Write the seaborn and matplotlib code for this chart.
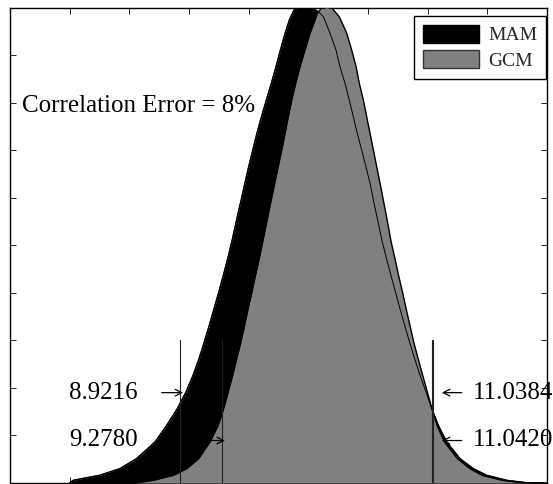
import matplotlib
matplotlib.use('Agg')
import matplotlib.pyplot as plt
import seaborn as sns
from matplotlib.patches import Patch

# ---- data ----
mam_x = [8.00, 8.03, 8.25, 8.42, 8.56, 8.715, 8.813, 8.902, 8.975, 9.034, 9.084, 9.128, 9.170,
         9.210, 9.250, 9.288, 9.324, 9.358, 9.405, 9.437, 9.468, 9.500, 9.534, 9.569, 9.607,
         9.648, 9.690, 9.729, 9.766, 9.805, 9.841, 9.880, 9.91, 9.96, 10.02, 10.05, 10.084,
         10.126, 10.182, 10.232, 10.265, 10.307, 10.343, 10.377, 10.410, 10.447, 10.483,
         10.517, 10.545, 10.575, 10.620, 10.655, 10.692, 10.730, 10.768, 10.807,
         10.848, 10.891, 10.936, 10.986, 11.034, 11.089, 11.160, 11.271, 11.383, 11.495,
         11.662, 11.830, 12.0]
mam_y = [0.0, 0.0057, 0.0162, 0.0301, 0.0511, 0.0862, 0.1213, 0.1563, 0.1914, 0.2265, 0.2614,
         0.2965, 0.3317, 0.3666, 0.4017, 0.4368, 0.4717, 0.5068, 0.560, 0.5952, 0.630, 0.665,
         0.700, 0.7354, 0.770, 0.8055, 0.8406, 0.8755, 0.9106, 0.9457, 0.9737, 0.9947, 0.999,
         1.0, 0.999, 0.996, 0.9912, 0.9807, 0.9457, 0.9106, 0.8755, 0.8406, 0.8055, 0.770,
         0.7354, 0.700, 0.665, 0.630, 0.5952, 0.560, 0.5068, 0.4717, 0.4368, 0.4017,
         0.3666, 0.3317, 0.2965, 0.2614, 0.2265, 0.1914, 0.1563, 0.1213, 0.0862, 0.0511,
         0.0301, 0.0162, 0.0057, 0.0006, 0.0]

gcm_x = [8.55, 8.70, 8.87, 8.98, 9.08, 9.175, 9.245, 9.290, 9.328, 9.366, 9.400, 9.435, 9.466,
         9.495, 9.527, 9.557, 9.588, 9.617, 9.660, 9.689, 9.718, 9.747, 9.777, 9.805, 9.832,
         9.861, 9.894, 9.930, 9.972, 10.014, 10.056, 10.075, 10.11, 10.155, 10.20, 10.259,
         10.322, 10.363, 10.400, 10.427, 10.461, 10.489, 10.517, 10.545, 10.573, 10.601,
         10.628, 10.655, 10.694, 10.726, 10.756, 10.789, 10.819, 10.851, 10.883,
         10.920, 10.958, 10.997, 11.036, 11.078, 11.141, 11.250, 11.355, 11.455, 11.623,
         11.791, 11.90]
gcm_y = [0.0, 0.0057, 0.0162, 0.0301, 0.0511, 0.0862, 0.1213, 0.1563, 0.1914, 0.2265, 0.2614,
         0.2965, 0.3317, 0.3666, 0.4017, 0.4368, 0.4717, 0.5068, 0.560, 0.5952, 0.630, 0.665,
         0.700, 0.7354, 0.770, 0.8055, 0.8406, 0.8755, 0.9106, 0.9457, 0.9737, 0.9878, 0.998,
         1.0, 0.998, 0.9807, 0.9457, 0.9106, 0.8755, 0.8406, 0.8055, 0.770, 0.7354, 0.700,
         0.665, 0.630, 0.5952, 0.560, 0.5068, 0.4717, 0.4368, 0.4017, 0.3666, 0.3317,
         0.2965, 0.2614, 0.2265, 0.1914, 0.1563, 0.1213, 0.0862, 0.0511, 0.0301, 0.0162,
         0.0057, 0.0006, 0.0]

series_labels = ['MAM', 'GCM']
left_bounds = [8.9216, 9.2780]
right_bounds = [11.0384, 11.0420]
left_labels = ['8.9216', '9.2780']
right_labels = ['11.0384', '11.0420']
note_text = 'Correlation Error = 8%'
x_ticks = [7.5, 8.0, 8.5, 9.0, 9.5, 10.0, 10.5, 11.0, 11.5, 12.0]
y_ticks = [0.0, 0.1, 0.2, 0.3, 0.4, 0.5, 0.6, 0.7, 0.8, 0.9, 1.0]

# ---- style ----
sns.set_theme(style='ticks')
plt.rcParams['font.family'] = ['Liberation Serif', 'DejaVu Serif']
plt.rcParams['axes.edgecolor'] = 'black'
plt.rcParams['axes.linewidth'] = 1.0

fig = plt.figure(figsize=(5.53, 4.84), dpi=100)
ax = fig.add_axes([10 / 553, 1 / 484, 537 / 553, 475.5 / 484])

gray = '#808080'
ax.fill_between(mam_x, mam_y, 0, color='black', lw=0, zorder=2)
sns.lineplot(x=mam_x, y=mam_y, color='black', lw=1.0, sort=False, estimator=None, ax=ax, zorder=2.5)
ax.fill_between(gcm_x, gcm_y, 0, color=gray, lw=0, zorder=3)
sns.lineplot(x=gcm_x, y=gcm_y, color='black', lw=1.0, sort=False, estimator=None, ax=ax, zorder=4)
sns.lineplot(x=mam_x, y=mam_y, color='black', lw=0.7, sort=False, estimator=None, ax=ax, zorder=4.5)

line_top = 0.3
for v in left_bounds + right_bounds:
    ax.plot([v, v], [0, line_top], color='#222222', lw=0.8, zorder=5)

# ---- annotations ----
fs = 18
label_baselines = [0.1767, 0.0778]
arrow_levels = [0.19, 0.0893]
left_tip_off = [0.030, 0.024]
for val, lab, yb, ya, off in zip(left_bounds, left_labels, label_baselines, arrow_levels, left_tip_off):
    ax.text(7.997, yb, lab, fontsize=fs, ha='left', va='baseline', color='black', zorder=6)
    ax.annotate('', xy=(val + off, ya), xytext=(val + off - 0.18, ya),
                arrowprops=dict(arrowstyle='->', color='black', lw=0.9,
                                shrinkA=0, shrinkB=0, mutation_scale=12), zorder=6)
for val, lab, yb, ya in zip(right_bounds, right_labels, label_baselines, arrow_levels):
    ax.text(11.377, yb, lab, fontsize=fs, ha='left', va='baseline', color='black',
            zorder=6, clip_on=False)
    ax.annotate('', xy=(11.118, ya), xytext=(11.285, ya),
                arrowprops=dict(arrowstyle='->', color='black', lw=0.9,
                                shrinkA=0, shrinkB=0, mutation_scale=12), zorder=6)

ax.text(7.598, 0.781, note_text, fontsize=fs, ha='left', va='baseline', color='black', zorder=6)

# ---- legend ----
handles = [Patch(facecolor='black', edgecolor='black', label=series_labels[0]),
           Patch(facecolor=gray, edgecolor='#333333', label=series_labels[1])]
leg = ax.legend(handles=handles, loc='upper right', bbox_to_anchor=(0.998, 0.982),
                borderaxespad=0, fontsize=14, handlelength=2.9, handleheight=1.05,
                handletextpad=0.45, labelspacing=0.3, borderpad=0.45,
                fancybox=False, framealpha=1, edgecolor='black')
leg.get_frame().set_linewidth(1.0)
leg.set_zorder(10)

# ---- axes ----
ax.set_xlim(7.5, 12)
ax.set_ylim(0, 1)
ax.set_xticks(x_ticks)
ax.set_yticks(y_ticks)
ax.set_xticklabels([])
ax.set_yticklabels([])
ax.tick_params(direction='in', length=4, width=0.6, top=True, right=True,
               bottom=True, left=True, color='black')
ax.set_xlabel('')
ax.set_ylabel('')
for s in ax.spines.values():
    s.set_visible(True)
    s.set_color('black')
    s.set_linewidth(1.0)

fig.savefig('out.png', dpi=100)
